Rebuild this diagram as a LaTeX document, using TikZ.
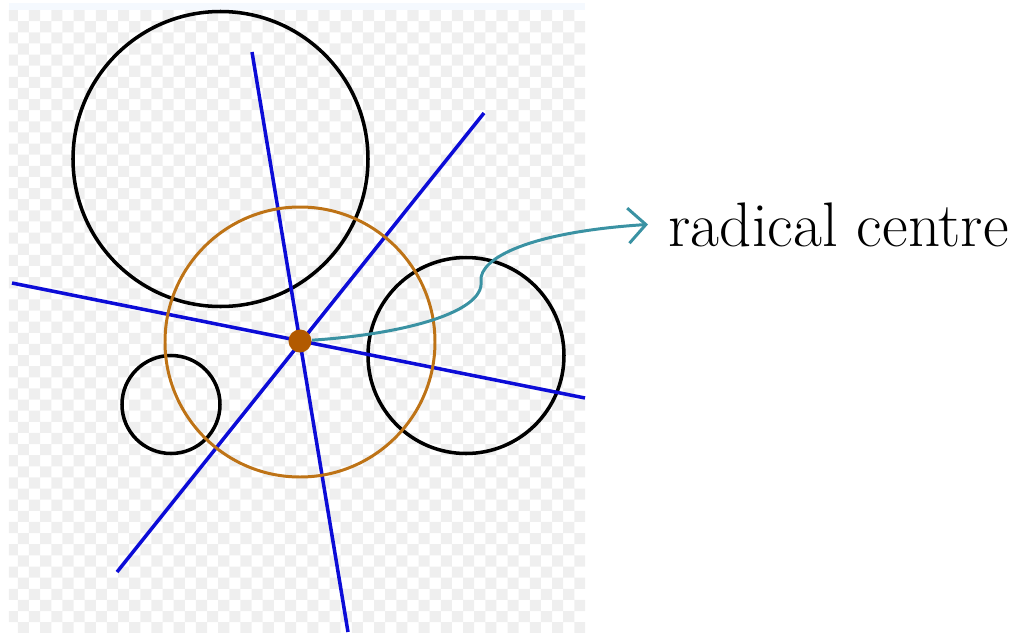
\documentclass[tikz,border=0pt]{standalone}
\usepackage{tikz}
\usepackage{xcolor}
\usetikzlibrary{arrows.meta}

\definecolor{axisblue}{RGB}{12,12,215}
\definecolor{orthoorange}{RGB}{190,115,22}
\definecolor{centrebrown}{RGB}{178,90,0}
\definecolor{pointerteal}{RGB}{58,146,163}
\definecolor{checkgray}{RGB}{239,239,239}
\definecolor{bandblue}{RGB}{245,249,254}

\begin{document}
\begin{tikzpicture}[
                x=0.01cm, y=-0.01cm,
                given/.style={draw=black, line width=1pt},
                axis/.style={draw=axisblue, line width=1pt},
                ortho/.style={draw=orthoorange, line width=0.85pt},
                pointer/.style={-{Straight Barb[length=5pt, width=10pt]}, draw=pointerteal, line width=0.85pt},
                centre_dot/.style={circle, fill=centrebrown, inner sep=0pt, minimum size=0.23cm},
                label_text/.style={font=\fontsize{17.9}{22}\selectfont, inner xsep=0.2cm, inner ysep=0pt}
            ]
                \useasboundingbox (0,0) rectangle (1017,633);

                % Checkered background
                \fill[bandblue] (9,3) rectangle (585,10);
                \begin{scope}
                    \clip (9,10) rectangle (585,633);
                    \fill[checkgray] \foreach \j [evaluate=\j as \s using {int(mod(\j,2))}] in {0,...,56} {
                        \foreach \i in {0,2,...,52} {
                            (6.74+11.13*\i+11.13*\s, 10+11.13*\j) rectangle ++(11.13,11.13)
                        }
                    };
                \end{scope}

                % Given circles
                \draw[given] (220.5,159) circle[radius=147.5];
                \draw[given] (171,404.5) circle[radius=49];
                \draw[given] (466,355.5) circle[radius=98];

                % Radical axes
                \coordinate (a1top) at (252,52);
                \coordinate (a1bot) at (348,632);
                \coordinate (a2top) at (484,113);
                \coordinate (a2bot) at (117,572);
                \coordinate (a3left) at (12,283);
                \coordinate (a3right) at (585,398);
                \draw[axis] (a1top) -- (a1bot);
                \draw[axis] (a2top) -- (a2bot);
                \draw[axis] (a3left) -- (a3right);

                % Orthogonal circle
                \draw[ortho] (300,342) circle[radius=135];

                % Radical centre
                \node[centre_dot] (rc) at (300,341) {};
                \node[label_text, anchor=base west] (lbl) at (648,246) {radical centre};
                \coordinate (bend) at (481,281);
                \draw[pointer] (rc) .. controls (405,334) and (485,312) .. (bend)
                    .. controls (479,258) and (530,232) .. (lbl.west);

            \end{tikzpicture}
\end{document}
